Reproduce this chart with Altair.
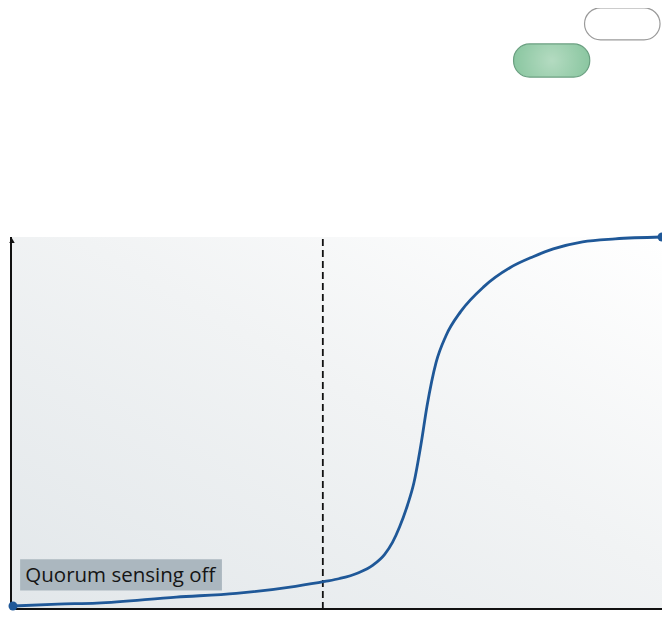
import altair as alt
import pandas as pd

# Curve (x: 0-100 time, y: 0-100 response)
curve_x = [0.3, 7.2, 13.2, 25.4, 34.6, 43.7, 48.2, 50.5, 53.3, 55.6, 57.4, 58.6, 59.7,
           60.9, 61.9, 63.0, 63.9, 65.3, 66.8, 69.1, 72.6, 76.7, 80.2, 83.3, 87.8, 92.8, 100.0]
curve_y = [0.8, 1.3, 1.6, 3.2, 4.2, 6.1, 7.4, 8.2, 9.7, 11.8, 14.7, 17.9, 22.1,
           27.9, 34.0, 44.5, 54.5, 66.3, 73.4, 80.0, 86.6, 91.8, 94.7, 96.8, 98.7, 99.5, 100.0]

threshold_x = [47.9]
label_text = ["Quorum sensing off"]
label_box = {"x": [1.4], "x2": [32.4], "y": [5.0], "y2": [13.4]}
label_pos = {"x": [2.2], "y": [9.0]}

pill_names = ["on", "off"]
pill_x = [77.2, 88.1]
pill_x2 = [88.9, 99.7]
pill_y = [143.0, 153.0]
pill_y2 = [151.9, 161.6]

end_x = [0.3, 100.0]
end_y = [0.8, 100.0]

xs = alt.Scale(domain=[0, 100], nice=False, zero=False)
ys = alt.Scale(domain=[0, 100], nice=False, zero=False)

bg_df = pd.DataFrame({"x": [0], "x2": [100], "y": [0], "y2": [100]})
bg = alt.Chart(bg_df).mark_rect(
    color=alt.Gradient(
        gradient="linear", x1=0, y1=1, x2=1, y2=0,
        stops=[alt.GradientStop(offset=0, color="#e2e7ea"),
               alt.GradientStop(offset=0.55, color="#f1f3f4"),
               alt.GradientStop(offset=1, color="#ffffff")])
).encode(
    x=alt.X("x:Q", scale=xs, axis=None), x2="x2",
    y=alt.Y("y:Q", scale=ys, axis=None), y2="y2")

curve_df = pd.DataFrame({"x": curve_x, "y": curve_y})
line = alt.Chart(curve_df).mark_line(
    color="#1f5898", strokeWidth=2.8, interpolate="monotone"
).encode(x=alt.X("x:Q", scale=xs), y=alt.Y("y:Q", scale=ys))

ends_df = pd.DataFrame({"x": end_x, "y": end_y})
ends = alt.Chart(ends_df).mark_circle(color="#1f5898", size=80, opacity=1).encode(
    x=alt.X("x:Q", scale=xs), y=alt.Y("y:Q", scale=ys))

thr_df = pd.DataFrame({"x": threshold_x, "y": [0], "y2": [100]})
thr = alt.Chart(thr_df).mark_rule(color="#111111", strokeWidth=1.8, strokeDash=[7, 4]).encode(
    x=alt.X("x:Q", scale=xs), y=alt.Y("y:Q", scale=ys), y2="y2")

axes_df = pd.DataFrame({"x": [0, 0], "x2": [0, 100], "y": [0, 0], "y2": [100, 0]})
axes = alt.Chart(axes_df).mark_rule(color="#111111", strokeWidth=2).encode(
    x=alt.X("x:Q", scale=xs), x2="x2", y=alt.Y("y:Q", scale=ys), y2="y2")

arrow_df = pd.DataFrame({"x": [0.15], "y": [99.0]})
arrow = alt.Chart(arrow_df).mark_point(shape="triangle-up", filled=True, color="#111111",
                                       size=30, opacity=1).encode(
    x=alt.X("x:Q", scale=xs), y=alt.Y("y:Q", scale=ys))

box_df = pd.DataFrame(label_box)
box = alt.Chart(box_df).mark_rect(color="#abb7bf").encode(
    x=alt.X("x:Q", scale=xs), x2="x2", y=alt.Y("y:Q", scale=ys), y2="y2")

lab_df = pd.DataFrame({"x": label_pos["x"], "y": label_pos["y"], "t": label_text})
lab = alt.Chart(lab_df).mark_text(
    align="left", baseline="middle", font="Open Sans", fontSize=20.5, color="#151515"
).encode(x=alt.X("x:Q", scale=xs), y=alt.Y("y:Q", scale=ys), text="t:N")

pill_df = pd.DataFrame({"name": pill_names, "x": pill_x, "x2": pill_x2,
                        "y": pill_y, "y2": pill_y2})
green = alt.Chart(pill_df[pill_df.name == "on"]).mark_rect(
    cornerRadius=16, stroke="#6a9f80", strokeWidth=1.2,
    color=alt.Gradient(
        gradient="radial", x1=0.5, y1=0.5, x2=0.5, y2=0.5, r1=0, r2=0.6,
        stops=[alt.GradientStop(offset=0, color="#b4dbc1"),
               alt.GradientStop(offset=1, color="#82c29a")])
).encode(x=alt.X("x:Q", scale=xs), x2="x2", y=alt.Y("y:Q", scale=ys), y2="y2")
white = alt.Chart(pill_df[pill_df.name == "off"]).mark_rect(
    cornerRadius=16, fill="#ffffff", stroke="#9a9a9a", strokeWidth=1.2
).encode(x=alt.X("x:Q", scale=xs), x2="x2", y=alt.Y("y:Q", scale=ys), y2="y2")

chart = alt.layer(bg, thr, line, axes, arrow, box, lab, ends, green, white).properties(
    width=651, height=372,
    autosize=alt.AutoSizeParams(type="none"),
    padding={"left": 3, "top": 229, "right": 0, "bottom": 2},
).configure_view(stroke=None)

chart.save("out.html", embed_options={"renderer": "svg", "actions": False})
